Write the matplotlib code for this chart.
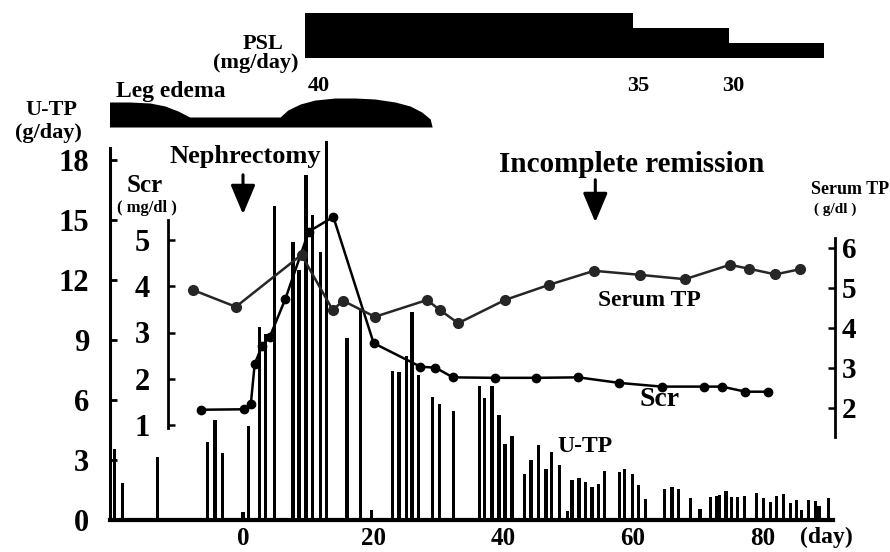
import matplotlib
matplotlib.use("Agg")
import matplotlib.pyplot as plt

W, H = 890, 552
plt.rcParams['font.family'] = ['Liberation Serif', 'DejaVu Serif']
plt.rcParams['font.weight'] = 'bold'

# ---------------- data ----------------
utp_day = [-19.8, -18.5, -13.2, -5.5, -4.3, -3.2, 0.0, 0.9, 2.5, 3.5, 4.8, 7.7, 8.6,
           9.7, 10.7, 11.9, 12.8, 16.0, 18.1, 19.8, 23.0, 24.0, 25.2, 26.0, 27.0,
           29.1, 30.2, 32.4, 36.4, 37.2, 38.3, 39.4, 40.3, 41.4, 43.3, 44.3, 45.5,
           46.6, 47.5, 48.7, 49.9, 50.6, 51.7, 52.7, 53.7, 54.7, 55.6, 57.9, 58.7,
           59.9, 60.8, 61.9, 64.9, 66.0, 67.0, 68.9, 70.3, 71.9, 72.8, 73.3, 74.3,
           75.2, 76.1, 77.1, 79.0, 80.1, 81.1, 82.1, 83.1, 84.2, 85.2, 85.9, 87.0,
           88.1, 88.6, 90.1]
utp_val = [3.55, 1.85, 3.15, 3.9, 5.0, 3.35, 0.4, 4.7, 9.65, 9.3, 15.7, 13.9, 12.5,
           17.25, 15.25, 13.4, 18.95, 9.1, 10.55, 0.5, 7.45, 7.4, 8.2, 10.4, 7.25,
           6.15, 5.8, 5.45, 6.7, 6.1, 6.7, 5.25, 3.8, 4.2, 2.3, 3.0, 3.75,
           2.55, 3.4, 2.75, 0.45, 2.0, 2.1, 1.9, 1.65, 1.8, 2.45, 2.4, 2.55,
           2.3, 1.75, 1.05, 1.55, 1.65, 1.55, 1.1, 0.55, 1.15, 1.2, 1.25, 1.45,
           1.15, 1.15, 1.2, 1.35, 1.1, 0.9, 1.2, 1.3, 0.85, 1.0, 0.5, 1.0,
           0.95, 0.7, 1.1]

scr_day = [-6.4, 0.2, 1.2, 1.8, 2.9, 4.1, 6.5, 10.1, 13.9, 20.1, 27.3, 29.6, 32.3,
           38.7, 45.0, 51.6, 57.9, 64.4, 70.9, 73.7, 77.3, 80.8]
scr_val = [1.33, 1.34, 1.45, 2.32, 2.7, 2.9, 3.72, 5.18, 5.5, 2.77, 2.26, 2.24, 2.03,
           2.02, 2.02, 2.03, 1.91, 1.83, 1.83, 1.83, 1.72, 1.72]

tp_day = [-7.7, -1.1, 9.0, 13.8, 15.4, 20.3, 28.3, 30.3, 33.1, 40.3, 47.1, 54.0,
          61.0, 68.0, 74.9, 77.9, 81.9, 85.7]
tp_val = [4.95, 4.53, 5.83, 4.45, 4.68, 4.28, 4.7, 4.45, 4.12, 4.7, 5.08, 5.43,
          5.33, 5.22, 5.58, 5.48, 5.34, 5.47]

psl_day = [9.5, 60.0, 74.8, 89.4]
psl_dose = [40, 35, 30]

edema_day = [-20.6, -17.4, -14.3, -12.0, -10.0, -8.2, 5.7, 6.9, 8.8, 11.1, 14.2,
             17.2, 20.3, 23.4, 25.7, 27.5, 28.8, 29.1]
edema_level = [25, 25, 24, 21, 16, 10, 10, 17, 23, 27, 29, 29, 28, 25, 21, 15, 8, 0]

utp_ticks = [0, 3, 6, 9, 12, 15, 18]
scr_ticks = [1, 2, 3, 4, 5]
tp_ticks = [2, 3, 4, 5, 6]
day_ticks = [0, 20, 40, 60, 80]

# ---------------- layout helpers (pixels) ----------------
def fx(px):
    return px / W

def fy(py):
    return 1 - py / H

X0PX, PXDAY = 243.0, 6.5          # day 0 location, pixels per day
L, R, T, B = 110, 833, 140, 520
xlo, xhi = (L - X0PX) / PXDAY, (R - X0PX) / PXDAY

fig = plt.figure(figsize=(W / 100, H / 100), dpi=100)
ax = fig.add_axes([fx(L), fy(B), (R - L) / W, (B - T) / H])
ax.set_xlim(xlo, xhi)
ax.set_ylim(0, (B - T) / 20.0)

ax.bar(utp_day, utp_val, width=0.5, color='black', zorder=2)

for s in ['top', 'right']:
    ax.spines[s].set_visible(False)
ax.spines['left'].set_linewidth(2.2)
ax.spines['left'].set_bounds(0, 18.6)
ax.spines['bottom'].set_linewidth(3)
ax.set_xticks(day_ticks)
ax.set_xticklabels([str(d) for d in day_ticks], fontsize=18)
ax.tick_params(axis='x', length=0, pad=5)
ax.set_yticks(utp_ticks)
ax.set_yticklabels([str(v) for v in utp_ticks], fontsize=22)
ax.tick_params(axis='y', direction='in', length=5, width=2, pad=15)

# Scr axis
scr_px = 46.25
ax2 = ax.twinx()
ax2.set_ylim(1 - (B - 425) / scr_px, 5 + (240 - T) / scr_px)
ax2.plot(scr_day, scr_val, color='black', lw=1.8, marker='o', ms=6, zorder=4)
for s in ['top', 'right', 'bottom']:
    ax2.spines[s].set_visible(False)
ax2.spines['left'].set_visible(True)
ax2.spines['left'].set_position(('axes', (168 - L) / (R - L)))
ax2.spines['left'].set_bounds(0.935, 5.43)
ax2.spines['left'].set_linewidth(2)
ax2.yaxis.set_ticks_position('left')
ax2.set_yticks(scr_ticks)
ax2.set_yticklabels([str(v) for v in scr_ticks], fontsize=22)
ax2.tick_params(axis='y', direction='in', length=5, width=1.8, pad=13)

# Serum TP axis
tp_px = 40.0
ax3 = ax.twinx()
ax3.set_ylim(2 - (B - 408) / tp_px, 6 + (248 - T) / tp_px)
ax3.plot(tp_day, tp_val, color='#262626', lw=1.8, marker='o', ms=7, zorder=3)
for s in ['top', 'left', 'bottom']:
    ax3.spines[s].set_visible(False)
ax3.spines['right'].set_position(('axes', (835 - L) / (R - L)))
ax3.spines['right'].set_bounds(1.275, 6.25)
ax3.spines['right'].set_linewidth(2)
ax3.set_yticks(tp_ticks)
ax3.set_yticklabels([str(v) for v in tp_ticks], fontsize=21)
ax3.tick_params(axis='y', direction='in', length=5, width=1.8, pad=5)

# arrows
ax.annotate('', xy=(0, (B - 217) / 20.0), xytext=(0, (B - 172) / 20.0),
            arrowprops=dict(arrowstyle='-|>,head_length=1.0,head_width=0.42',
                            mutation_scale=18, lw=2.2, color='black'))
ax.annotate('', xy=(54.2, (B - 225) / 20.0), xytext=(54.2, (B - 177) / 20.0),
            arrowprops=dict(arrowstyle='-|>,head_length=1.0,head_width=0.42',
                            mutation_scale=18, lw=2.2, color='black'))

# PSL bar
axp = fig.add_axes([fx(L), fy(58), (R - L) / W, 48 / H])
axp.set_xlim(xlo, xhi)
axp.set_ylim(25, 41)
axp.stairs(psl_dose, psl_day, baseline=25, fill=True, color='black')
axp.axis('off')

# Leg edema
axe = fig.add_axes([fx(L), fy(127), (R - L) / W, 32 / H])
axe.set_xlim(xlo, xhi)
axe.set_ylim(0, 32)
axe.fill_between(edema_day, 0, edema_level, color='black', lw=0)
axe.axis('off')

def txt(x, y, s, size, ha='center'):
    fig.text(fx(x), fy(y), s, fontsize=size, ha=ha, va='center', fontweight='bold')

txt(263, 44, 'PSL', 16)
txt(256, 63, '(mg/day)', 16)
txt(319, 86, '40', 16)
txt(638, 86, '35', 16)
txt(733, 86, '30', 16)
txt(171, 92, 'Leg edema', 17)
txt(51, 110, 'U-TP', 16)
txt(48, 133, '(g/day)', 16)
txt(245, 157, 'Nephrectomy', 19)
txt(145, 186, 'Scr', 18)
txt(147, 208, '( mg/dl )', 12)
txt(632, 165, 'Incomplete remission', 21)
txt(850, 190, 'Serum TP', 13)
txt(835, 209, '( g/dl )', 11)
txt(649, 301, 'Serum TP', 17)
txt(660, 399, 'Scr', 20)
txt(585, 446, 'U-TP', 17)
txt(826, 537, '(day)', 17)

fig.savefig('out.png', dpi=100)
